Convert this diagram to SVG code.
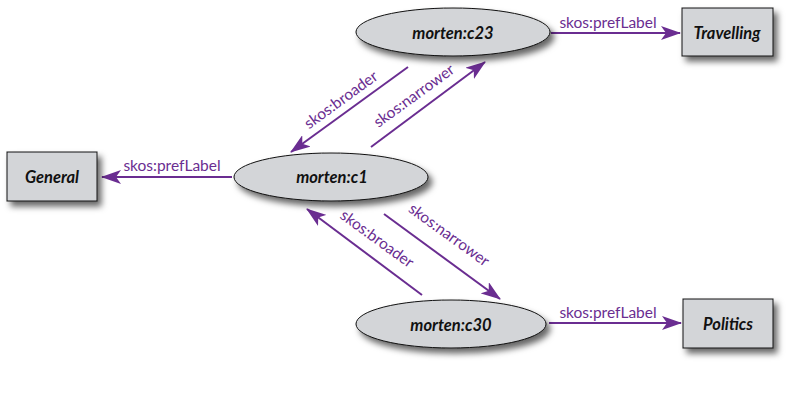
<svg xmlns="http://www.w3.org/2000/svg" width="800" height="415" viewBox="0 0 800 415">
<style>
.node{fill:#d3d5d8;stroke:#111;stroke-width:1;filter:url(#sh)}
.nl{font-family:Lato,"Liberation Sans",sans-serif;font-weight:bold;font-style:italic;font-size:16.5px;fill:#111;text-anchor:middle;dominant-baseline:central}
.edge{stroke:#6a2d91;stroke-width:2;fill:none;marker-end:url(#ah)}
.el{font-family:Lato,"Liberation Sans",sans-serif;font-size:15.5px;fill:#6a2d91;text-anchor:middle}
</style>
<defs>
<filter id="sh" x="-20%" y="-30%" width="150%" height="180%">
<feDropShadow dx="4" dy="5" stdDeviation="3" flood-color="#000" flood-opacity="0.6"/>
</filter>
<marker id="ah" viewBox="0 0 20 14" refX="19" refY="7" markerWidth="20" markerHeight="14" markerUnits="userSpaceOnUse" orient="auto">
<path d="M0,0 L20,7 L0,14 L5,7 Z" fill="#6a2d91"/>
</marker>
</defs>
<rect width="800" height="415" fill="#fff"/>
<g id="connectors">
<line class="edge" x1="551" y1="33" x2="680" y2="33"/>
<text class="el" x="608" y="28">skos:prefLabel</text>
<line class="edge" x1="232" y1="177" x2="102" y2="177"/>
<text class="el" x="172" y="171">skos:prefLabel</text>
<line class="edge" x1="549" y1="323" x2="681" y2="323"/>
<text class="el" x="608" y="318">skos:prefLabel</text>
<line class="edge" x1="408" y1="67" x2="291" y2="152"/>
<text class="el" transform="translate(344,104) rotate(-36)">skos:broader</text>
<line class="edge" x1="371" y1="147" x2="485" y2="62"/>
<text class="el" transform="translate(417,100) rotate(-36)">skos:narrower</text>
<line class="edge" x1="422" y1="295" x2="307" y2="209"/>
<text class="el" transform="translate(374,243) rotate(36)">skos:broader</text>
<line class="edge" x1="384" y1="214" x2="500" y2="299"/>
<text class="el" transform="translate(446,239) rotate(36)">skos:narrower</text>
</g>
<g id="c23"><ellipse class="node" cx="453" cy="32" rx="97" ry="24"/><text class="nl" x="453" y="33">morten:c23</text></g>
<g id="c1"><ellipse class="node" cx="331" cy="177" rx="97" ry="24"/><text class="nl" x="332" y="177">morten:c1</text></g>
<g id="c30"><ellipse class="node" cx="451" cy="324" rx="95" ry="24"/><text class="nl" x="451" y="325">morten:c30</text></g>
<g id="travelling"><rect class="node" x="682" y="8" width="91" height="48"/><text class="nl" x="727" y="33">Travelling</text></g>
<g id="general"><rect class="node" x="7" y="152" width="90" height="49"/><text class="nl" x="52" y="177">General</text></g>
<g id="politics"><rect class="node" x="683" y="299" width="90" height="49"/><text class="nl" x="728" y="324">Politics</text></g>
</svg>
